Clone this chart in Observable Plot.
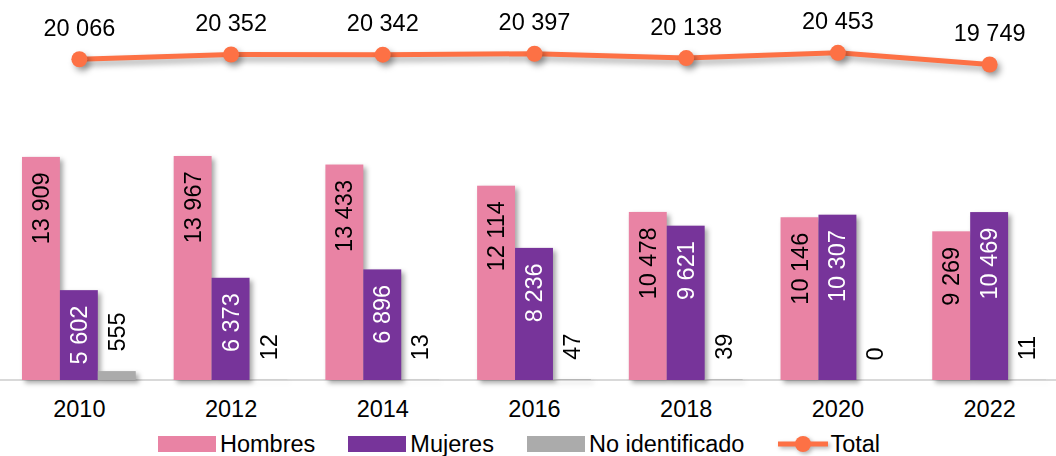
<!DOCTYPE html>
<html>
<head>
<meta charset="utf-8">
<script src="https://cdn.jsdelivr.net/npm/d3@7"></script>
<script src="https://cdn.jsdelivr.net/npm/@observablehq/plot@0.6"></script>
<style>
  html, body { margin: 0; padding: 0; background: #fff; overflow: hidden; }
  body { font-family: "Liberation Sans", Arial, sans-serif; color: #000; }
  #wrap { position: relative; width: 1056px; height: 430px; }
  #wrap svg { position: absolute; left: 0; top: 0; }
  #wrap svg text { font-size: 23.5px; }
  g[aria-label="bar"] { filter: drop-shadow(3px 3px 2.5px rgba(0,0,0,0.35)); }
  g[aria-label="line"], g[aria-label="dot"] { filter: drop-shadow(3px 4px 3px rgba(0,0,0,0.35)); }
  #baseline { position: absolute; left: 0; width: 1056px; height: 2px; background: #d9d9d9; }
  #legend { display: flex; align-items: center; height: 28px; padding-left: 158px; font-size: 23.5px; }
  .item { display: flex; align-items: center; margin-right: 33px; }
  .sw { width: 58px; height: 16px; margin-right: 4px; }
</style>
</head>
<body>
<div id="wrap"><div id="baseline"></div></div>
<div id="legend"></div>
<script>
const years = ["2010", "2012", "2014", "2016", "2018", "2020", "2022"];
const series = ["Hombres", "Mujeres", "No identificado"];
const hombres = [13909, 13967, 13433, 12114, 10478, 10146, 9269];
const mujeres = [5602, 6373, 6896, 8236, 9621, 10307, 10469];
const noIdentificado = [555, 12, 13, 47, 39, 0, 11];
const total = [20066, 20352, 20342, 20397, 20138, 20453, 19749];
const totalLabel = "Total";
const colors = ["#E983A4", "#77349A", "#ABABAB"];
const lineColor = "#FD7145";

const fmt = d3.formatLocale({thousands: " ", grouping: [3], decimal: ","}).format(",d");

const values = [hombres, mujeres, noIdentificado];
const rows = [];
years.forEach((year, i) => series.forEach((s, j) => rows.push({year, serie: s, value: values[j][i]})));
const totals = years.map((year, i) => ({year, value: total[i]}));

const font = "'Liberation Sans', Arial, sans-serif";

const chart = Plot.plot({
  width: 1056, height: 430,
  marginTop: 0, marginLeft: 0, marginRight: 0, marginBottom: 50,
  style: {fontFamily: font, fontSize: "23.5px", background: "transparent", color: "#000", overflow: "visible"},
  facet: {data: rows, x: "year"},
  fx: {domain: years, range: [3, 1065], paddingInner: 0.25, paddingOuter: 0.125, round: false, label: null, tickSize: 0, tickPadding: 20, axis: "bottom"},
  x: {domain: series, padding: 0, round: false, axis: null},
  y: {domain: [0, 14000], range: [380, 380 - 0.01604 * 14000], axis: null},
  color: {domain: series, range: colors},
  marks: [
    Plot.barY(rows, {x: "serie", y: "value", fill: "serie"}),
    Plot.text(rows, {filter: d => d.serie === "Hombres", x: "serie", y: "value", text: d => fmt(d.value), rotate: -90, textAnchor: "end", dy: 15, fill: "#000"}),
    Plot.text(rows, {filter: d => d.serie === "Mujeres", x: "serie", y: "value", text: d => fmt(d.value), rotate: -90, textAnchor: "end", dy: 15, fill: "#fff"}),
    Plot.text(rows, {filter: d => d.serie === "No identificado", x: "serie", y: "value", text: d => fmt(d.value), rotate: -90, textAnchor: "start", dy: -20, fill: "#000"})
  ]
});

const overlay = Plot.plot({
  width: 1056, height: 430,
  margin: 0,
  style: {fontFamily: font, fontSize: "23.5px", background: "transparent", color: "#000", overflow: "visible"},
  x: {type: "point", domain: years, range: [3, 1065], padding: 0.5, round: false, axis: null},
  y: {domain: [19749, 20453], range: [64, 52.3], axis: null},
  marks: [
    Plot.line(totals, {x: "year", y: "value", stroke: lineColor, strokeWidth: 5}),
    Plot.dot(totals, {x: "year", y: "value", r: 8, fill: lineColor}),
    Plot.text(totals, {x: "year", y: "value", text: d => fmt(d.value), dy: -31, fill: "#000"})
  ]
});

const wrap = document.getElementById("wrap");
wrap.appendChild(chart);
wrap.appendChild(overlay);
const y0 = chart.scale("y").apply(0);
document.getElementById("baseline").style.top = (y0 - 1) + "px";

const legend = document.getElementById("legend");
series.forEach((s, j) => {
  const it = document.createElement("div");
  it.className = "item";
  it.innerHTML = `<div class="sw" style="background:${colors[j]}"></div><span>${s}</span>`;
  legend.appendChild(it);
});
const it = document.createElement("div");
it.className = "item";
it.innerHTML = `<svg width="52" height="20" style="margin-right:1px;filter:drop-shadow(2px 2px 2px rgba(0,0,0,0.3))"><line x1="1" x2="51" y1="10" y2="10" stroke="${lineColor}" stroke-width="5"/><circle cx="26" cy="10" r="8" fill="${lineColor}"/></svg><span>${totalLabel}</span>`;
legend.appendChild(it);
</script>
</body>
</html>
